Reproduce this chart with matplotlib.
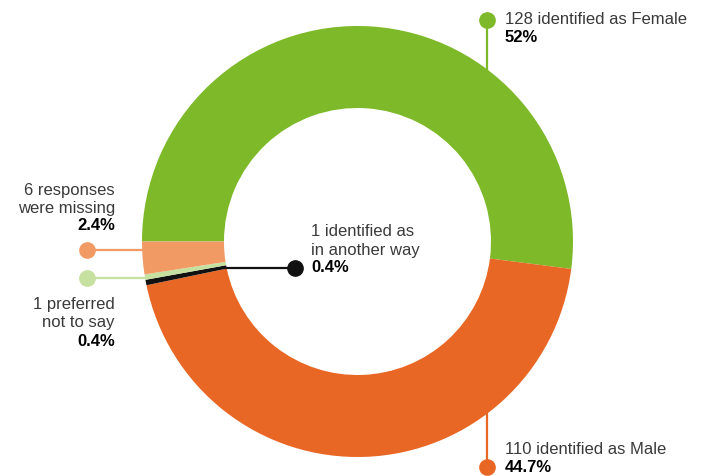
import matplotlib.pyplot as plt

# responses by gender, in drawing order (clockwise from 9 o'clock)
labels = ["Female", "Male", "In another way", "Preferred not to say", "Missing"]
counts = [128, 110, 1, 1, 6]
pct_text = ["52%", "44.7%", "0.4%", "0.4%", "2.4%"]
colors = ["#7db928", "#e96725", "#111111", "#c6e0a0", "#f29a64"]

W, H = 708, 476


def fy(py):
    # pixel row (from top) -> data y
    return H - py


plt.rcParams['font.family'] = ['Liberation Sans', 'DejaVu Sans']

fig = plt.figure(figsize=(W / 100, H / 100), dpi=100)
ax = fig.add_axes([0, 0, 1, 1])

cx, cy = 357.5, fy(241.5)
ax.pie(counts, colors=colors, startangle=180, counterclock=False,
       radius=215.5, center=(cx, cy),
       wedgeprops=dict(width=82, linewidth=0, zorder=2))

ax.set_xlim(0, W)
ax.set_ylim(0, H)
ax.set_aspect('auto')
ax.axis('off')

text_col = "#3a3a3a"
fs = 12


def label(x, y, lines, pct, ha="left"):
    for i, ln in enumerate(lines):
        ax.text(x, fy(y + i * 18), ln, ha=ha, va="center", fontsize=fs, color=text_col)
    ax.text(x, fy(y + len(lines) * 18), pct, ha=ha, va="center", fontsize=fs,
            fontweight="bold", color="black")


# Female
ax.plot([487, 487], [fy(20), fy(80)], color=colors[0], lw=1.6, zorder=1)
ax.plot(487, fy(20), "o", color=colors[0], ms=11, zorder=3)
label(505, 20, ["128 identified as Female"], pct_text[0])

# Male
ax.plot([487, 487], [fy(467), fy(400)], color=colors[1], lw=1.6, zorder=1)
ax.plot(487, fy(467), "o", color=colors[1], ms=11, zorder=3)
label(505, 450, ["110 identified as Male"], pct_text[1])

# missing
ax.plot([87, 150], [fy(250), fy(250)], color=colors[4], lw=1.6, zorder=1)
ax.plot(87, fy(250), "o", color=colors[4], ms=11, zorder=3)
label(115, 190, ["6 responses", "were missing"], pct_text[4], ha="right")

# preferred not to say
ax.plot([87, 150], [fy(278), fy(278)], color=colors[3], lw=1.6, zorder=1)
ax.plot(87, fy(278), "o", color=colors[3], ms=11, zorder=3)
label(115, 305, ["1 preferred", "not to say"], pct_text[3], ha="right")

# another way
ax.plot([223, 295], [fy(268), fy(268)], color=colors[2], lw=1.6, zorder=3)
ax.plot(295, fy(268), "o", color=colors[2], ms=11, zorder=3)
label(311, 232, ["1 identified as", "in another way"], pct_text[2])

fig.savefig("out.png", dpi=100)
